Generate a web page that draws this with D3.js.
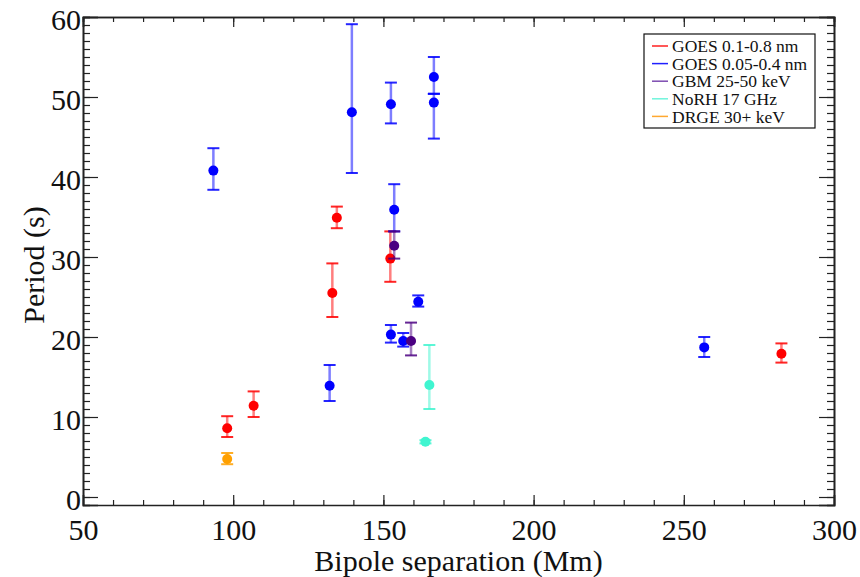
<!DOCTYPE html>
<html lang="en">
<head>
  <meta charset="UTF-8">
  <title>Period vs bipole separation</title>
  <style type="text/css">
    body { margin: 0; background: #fff; }
    #chart { margin: 0; }
    svg { display: block; }
    svg text { font-family: "Liberation Serif", "Times New Roman", "DejaVu Serif", serif !important; }
  </style>
</head>
<body>
<figure id="chart"></figure>
<script src="https://cdn.jsdelivr.net/npm/d3@7"></script>
<script type="text/javascript">
  // values: x = bipole separation (Mm), y = period (s), lo/hi = error bar ends

  // GOES 0.1-0.8 nm
  var goesLongX  = [98.0, 106.8, 133.0, 134.5, 152.3, 282.5];
  var goesLongY  = [8.6, 11.4, 25.5, 34.9, 29.8, 17.9];
  var goesLongLo = [7.5, 10.0, 22.5, 33.6, 26.9, 16.8];
  var goesLongHi = [10.1, 13.2, 29.2, 36.3, 33.2, 19.2];

  // GOES 0.05-0.4 nm
  var goesShortX  = [93.4, 132.1, 139.5, 152.5, 152.5, 153.6, 156.6, 161.6, 166.8, 166.8, 256.8];
  var goesShortY  = [40.8, 13.9, 48.1, 49.1, 20.3, 35.9, 19.5, 24.4, 52.5, 49.3, 18.7];
  var goesShortLo = [38.4, 12.0, 40.5, 46.7, 19.3, 33.2, 18.8, 23.8, 50.4, 44.8, 17.5];
  var goesShortHi = [43.6, 16.5, 59.1, 51.8, 21.5, 39.1, 20.5, 25.2, 55.0, 50.4, 20.0];

  // GBM 25-50 keV
  var gbmX  = [153.6, 159.2];
  var gbmY  = [31.4, 19.5];
  var gbmLo = [29.8, 17.7];
  var gbmHi = [33.2, 21.8];

  // NoRH 17 GHz
  var norhX  = [164.0, 165.3];
  var norhY  = [6.9, 14.0];
  var norhLo = [6.7, 11.0];
  var norhHi = [7.1, 19.0];

  // DRGE 30+ keV
  var drgeX  = [98.0];
  var drgeY  = [4.75];
  var drgeLo = [4.1];
  var drgeHi = [5.5];

  var xTicks = [50, 100, 150, 200, 250, 300];
  var yTicks = [0, 10, 20, 30, 40, 50, 60];

  function rows(xs, ys, los, his) {
    return xs.map(function(x, i) { return { x: x, y: ys[i], lo: los[i], hi: his[i] }; });
  }

  var series = [
    { name: "GOES 0.1-0.8 nm",  color: "#ff0000", legend: "#ff2020", data: rows(goesLongX, goesLongY, goesLongLo, goesLongHi) },
    { name: "GOES 0.05-0.4 nm", color: "#0000ff", legend: "#2020ff", data: rows(goesShortX, goesShortY, goesShortLo, goesShortHi) },
    { name: "GBM 25-50 keV",    color: "#4b0082", legend: "#7d4bb0", data: rows(gbmX, gbmY, gbmLo, gbmHi) },
    { name: "NoRH 17 GHz",      color: "#40f5d0", legend: "#70f5dc", data: rows(norhX, norhY, norhLo, norhHi) },
    { name: "DRGE 30+ keV",     color: "#ffa000", legend: "#ffa830", data: rows(drgeX, drgeY, drgeLo, drgeHi) }
  ];

  var width = 860, height = 577;
  var margin = { top: 17, right: 26, bottom: 72, left: 83 };

  var x = d3.scaleLinear().domain([50, 300]).range([margin.left, width - margin.right]);
  var y = d3.scaleLinear().domain([-1, 60]).range([height - margin.bottom, margin.top]);

  var svg = d3.select("#chart").append("svg")
    .attr("width", width)
    .attr("height", height);

  var axisColor = "#222";

  // ticks point inward on all four sides, IDL style
  var xMinor = d3.range(50, 301, 10);
  var yMinor = d3.range(0, 61, 1);

  svg.append("g")
    .attr("transform", "translate(0," + y.range()[0] + ")")
    .call(d3.axisBottom(x).tickValues(xMinor).tickSize(-5).tickFormat(""))
    .call(function(g) { g.select(".domain").remove(); });
  svg.append("g")
    .attr("transform", "translate(0," + y.range()[0] + ")")
    .call(d3.axisBottom(x).tickValues(xTicks).tickSize(-10).tickPadding(14).tickFormat(d3.format("d")));
  svg.append("g")
    .attr("transform", "translate(0," + y.range()[1] + ")")
    .call(d3.axisTop(x).tickValues(xMinor).tickSize(-5).tickFormat(""));
  svg.append("g")
    .attr("transform", "translate(0," + y.range()[1] + ")")
    .call(d3.axisTop(x).tickValues(xTicks).tickSize(-10).tickFormat(""));

  svg.append("g")
    .attr("transform", "translate(" + x.range()[0] + ",0)")
    .call(d3.axisLeft(y).tickValues(yMinor).tickSize(-7).tickFormat(""));
  svg.append("g")
    .attr("class", "yleft")
    .attr("transform", "translate(" + x.range()[0] + ",0)")
    .call(d3.axisLeft(y).tickValues(yTicks).tickSize(-15).tickPadding(2).tickFormat(d3.format("d")));
  svg.append("g")
    .attr("transform", "translate(" + x.range()[1] + ",0)")
    .call(d3.axisRight(y).tickValues(yMinor).tickSize(-7).tickFormat(""));
  svg.append("g")
    .attr("transform", "translate(" + x.range()[1] + ",0)")
    .call(d3.axisRight(y).tickValues(yTicks).tickSize(-15).tickFormat(""));

  svg.selectAll(".domain").attr("stroke", axisColor).attr("stroke-width", 1.6);
  svg.selectAll(".tick line").attr("stroke", axisColor).attr("stroke-width", 1.2);
  svg.selectAll(".tick text")
    .attr("fill", "#111")
    .attr("font-size", 30);
  svg.selectAll(".yleft .tick text").attr("dy", "0.42em");

  // axis titles
  svg.append("text")
    .attr("x", (x.range()[0] + x.range()[1]) / 2)
    .attr("y", height - 6)
    .attr("text-anchor", "middle")
    .attr("font-size", 30)
    .attr("fill", "#111")
    .text("Bipole separation (Mm)");
  svg.append("text")
    .attr("transform", "translate(44," + ((y.range()[0] + y.range()[1]) / 2 + 4) + ") rotate(-90)")
    .attr("text-anchor", "middle")
    .attr("font-size", 30)
    .attr("fill", "#111")
    .text("Period (s)");

  // error bars then points
  var capW = 6;
  series.forEach(function(s) {
    var g = svg.append("g");
    var bars = g.selectAll("g.err").data(s.data).join("g").attr("class", "err");
    bars.append("line")
      .attr("x1", function(d) { return x(d.x); })
      .attr("x2", function(d) { return x(d.x); })
      .attr("y1", function(d) { return y(d.lo); })
      .attr("y2", function(d) { return y(d.hi); })
      .attr("stroke", s.color).attr("stroke-width", 2.5).attr("opacity", 0.5);
    ["lo", "hi"].forEach(function(k) {
      bars.append("line")
        .attr("x1", function(d) { return x(d.x) - capW; })
        .attr("x2", function(d) { return x(d.x) + capW; })
        .attr("y1", function(d) { return y(d[k]); })
        .attr("y2", function(d) { return y(d[k]); })
        .attr("stroke", s.color).attr("stroke-width", 2).attr("opacity", 0.85);
    });
    g.selectAll("circle").data(s.data).join("circle")
      .attr("cx", function(d) { return x(d.x); })
      .attr("cy", function(d) { return y(d.y); })
      .attr("r", 5)
      .attr("fill", s.color);
  });

  // legend
  var lg = svg.append("g").attr("transform", "translate(644,34)");
  lg.append("rect")
    .attr("width", 171).attr("height", 94)
    .attr("fill", "#fff").attr("stroke", "#111").attr("stroke-width", 1.2);
  var item = lg.selectAll("g.item").data(series).join("g")
    .attr("class", "item")
    .attr("transform", function(d, i) { return "translate(0," + (12 + i * 17.6) + ")"; });
  item.append("line")
    .attr("x1", 8).attr("x2", 24)
    .attr("stroke", function(d) { return d.legend; }).attr("stroke-width", 1.5);
  item.append("text")
    .attr("x", 28).attr("dy", "0.35em")
    .attr("font-size", 17.5)
    .attr("fill", "#111")
    .text(function(d) { return d.name; });
</script>
</body>
</html>
